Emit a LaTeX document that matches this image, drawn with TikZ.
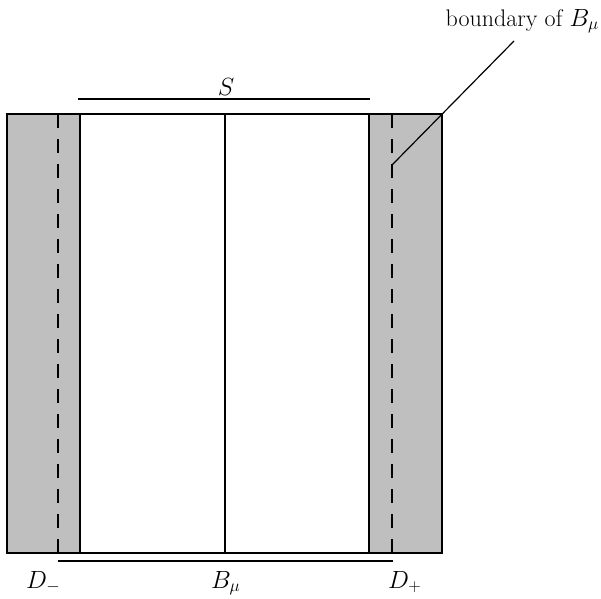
\documentclass[tikz,border=0pt]{standalone}
\begin{document}
\begin{tikzpicture}[x=1pt,y=-1pt,
  lbl/.style={inner sep=0pt,font=\fontsize{24}{28}\selectfont},
  strip/.style={fill=black!25,draw=black,line width=1.4pt},
  bnd/.style={line width=1.4pt,dash pattern=on 14pt off 11pt},
  thin/.style={line width=1.2pt}]
\useasboundingbox (0,0) rectangle (601,598);
% shaded strips
\path[strip] (7,114) rectangle (80,553);
\path[strip] (369,114) rectangle (442,553);
% outer frame and middle
\draw[line width=1.4pt] (7,114) rectangle (442,553);
\coordinate (mt) at (225,114);
\coordinate (mb) at (225,553);
\draw[thin] (mt) -- (mb);
% dashed boundaries
\coordinate (lt) at (58,114);
\coordinate (lb) at (58,553);
\coordinate (rt) at (392,114);
\coordinate (rb) at (392,553);
\draw[bnd] (lt) -- (lb);
\draw[bnd] (rt) -- (rb);
% S line
\coordinate (sa) at (78,99);
\coordinate (sb) at (370,99);
\draw[thin] (sa) -- (sb);
\node[lbl,anchor=base] (S) at (226,95) {$S$};
% bottom line
\coordinate (ba) at (58,561);
\coordinate (bb) at (393,561);
\draw[thin] (ba) -- (bb);
\node[lbl,anchor=base west] (Dm) at (26,588) {$D_-$};
\node[lbl,anchor=base west] (Bm) at (211,588) {$B_\mu$};
\node[lbl,anchor=base west] (Dp) at (388,588) {$D_+$};
% boundary label
\node[lbl,anchor=base east] (bl) at (599,26) {boundary of $B_\mu$};
\coordinate (lp) at (514,41);
\coordinate (lq) at (392,165);
\draw[thin] (lp) -- (lq);
\end{tikzpicture}
\end{document}
